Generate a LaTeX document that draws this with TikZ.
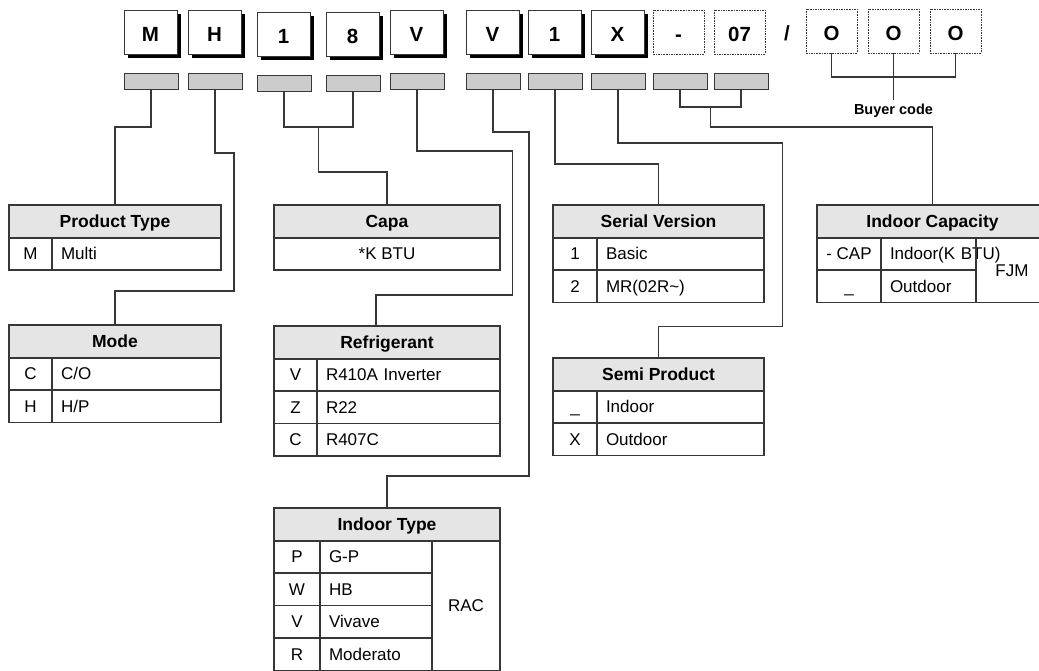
\documentclass[tikz,border=0pt]{standalone}
\usepackage{fontspec}
\setmainfont{Liberation Sans}
\usetikzlibrary{positioning,shadows}
\definecolor{ink}{RGB}{55,55,55}
\definecolor{hdfill}{RGB}{229,229,229}
\definecolor{barfill}{RGB}{204,204,204}

\begin{document}
\begin{tikzpicture}[x=1pt,y=-1pt,
     letter/.style={draw=ink,fill=white,line width=0.9pt,minimum width=53pt,minimum height=44pt,inner sep=0pt,outer sep=0pt,anchor=north west,
       font=\bfseries\fontsize{20.5}{22}\selectfont,text height=18.7pt,text depth=0pt,
       drop shadow={shadow xshift=4pt,shadow yshift=-4pt,fill=black,opacity=1}},
     opt/.style={draw=ink,dash pattern=on 1.6pt off 1pt,line width=0.9pt,minimum width=51pt,minimum height=44pt,inner sep=0pt,outer sep=0pt,anchor=north west,
       font=\bfseries\fontsize{20.5}{22}\selectfont,text height=18.7pt,text depth=0pt},
     bar/.style={draw=ink,fill=barfill,line width=0.9pt,minimum width=54pt,minimum height=16pt,inner sep=0pt,outer sep=0pt,anchor=north west},
     wire/.style={draw=ink,line width=1.1pt},
     hd/.style={draw=ink,fill=hdfill,line width=1.1pt,minimum height=33pt,inner sep=0pt,outer sep=0pt,anchor=north west,
       font=\bfseries\fontsize{17.5}{19}\selectfont,text height=12.6pt,text depth=0pt},
     key/.style={draw=ink,line width=1.1pt,minimum height=32.5pt,inner sep=0pt,outer sep=0pt,anchor=north west,
       font=\fontsize{17}{19}\selectfont,text height=12.2pt,text depth=0pt},
     val/.style={key,align=left,inner xsep=9pt,text width=#1}]
    \useasboundingbox (0,0) rectangle (1039,671);
    \clip (0,0) rectangle (1039,671);
    % model code
    \node[letter] (cM)  at (124,10) {M};
    \node[letter] (cH)  at (188,10) {H};
    \node[letter] (c1)  at (257,12) {1};
    \node[letter] (c8)  at (326,12) {8};
    \node[letter] (cV)  at (390,10) {V};
    \node[letter] (cV2) at (466,10) {V};
    \node[letter] (cS)  at (528,10) {1};
    \node[letter] (cX)  at (591,10) {X};
    \node[opt] (cDash) at (653,10) {-};
    \node[opt] (c07)   at (714,10) {07};
    \node[font=\bfseries\fontsize{20.5}{22}\selectfont] (slash) at (787,33) {/};
    \node[opt] (o1) at (806,9) {O};
    \node[opt] (o2) at (868,9) {O};
    \node[opt] (o3) at (930,9) {O};
    % grey bars
    \node[bar] (bM)    at (124,73) {};
    \node[bar] (bH)    at (188,73) {};
    \node[bar] (b1)    at (257,75) {};
    \node[bar] (b8)    at (326,75) {};
    \node[bar] (bV)    at (390,73) {};
    \node[bar] (bV2)   at (466,73) {};
    \node[bar] (bS)    at (528,73) {};
    \node[bar] (bX)    at (591,73) {};
    \node[bar] (bDash) at (653,73) {};
    \node[bar] (b07)   at (714,73) {};
    \node[font=\bfseries\fontsize{14.5}{16}\selectfont,anchor=north,inner xsep=0pt,inner ysep=4pt,text height=10.4pt,text depth=3pt] (buyer) at (893.5,100) {Buyer code};

    % Product Type
    \node[hd,minimum width=212pt] (hPT) at (9,205) {Product Type};
    \node[key,minimum width=43pt] (kPT1) at (9,237.5) {M};
    \node[val=151pt] (vPT1) at (52,237.5) {Multi};
    % Mode
    \node[hd,minimum width=212pt] (hMode) at (9,325) {Mode};
    \node[key,minimum width=43pt] (kMo1) at (9,357.5) {C};
    \node[val=151pt] (vMo1) at (52,357.5) {C/O};
    \node[key,minimum width=43pt] (kMo2) at (9,390) {H};
    \node[val=151pt] (vMo2) at (52,390) {H/P};
    % Capa
    \node[hd,minimum width=226pt] (hCapa) at (274,205) {Capa};
    \node[key,minimum width=226pt] (vCapa) at (274,237.5) {*K BTU};
    % Refrigerant
    \node[hd,minimum width=226pt] (hRef) at (274,326) {Refrigerant};
    \node[key,minimum width=43pt] (kRe1) at (274,358.5) {V};
    \node[val=165pt] (vRe1) at (317,358.5) {R410A Inverter};
    \node[key,minimum width=43pt] (kRe2) at (274,391) {Z};
    \node[val=165pt] (vRe2) at (317,391) {R22};
    \node[key,minimum width=43pt] (kRe3) at (274,423.5) {C};
    \node[val=165pt] (vRe3) at (317,423.5) {R407C};
    % Indoor Type
    \node[hd,minimum width=226pt] (hIT) at (274,508) {Indoor Type};
    \node[key,minimum width=46pt] (kIT1) at (274,540.5) {P};
    \node[val=94pt] (vIT1) at (320,540.5) {G-P};
    \node[key,minimum width=46pt] (kIT2) at (274,573) {W};
    \node[val=94pt] (vIT2) at (320,573) {HB};
    \node[key,minimum width=46pt] (kIT3) at (274,605.5) {V};
    \node[val=94pt] (vIT3) at (320,605.5) {Vivave};
    \node[key,minimum width=46pt] (kIT4) at (274,638) {R};
    \node[val=94pt] (vIT4) at (320,638) {Moderato};
    \node[key,minimum width=68pt,minimum height=130pt] (rac) at (432,540.5) {RAC};
    % Serial Version
    \node[hd,minimum width=211pt] (hSV) at (553,205) {Serial Version};
    \node[key,minimum width=44pt] (kSV1) at (553,237.5) {1};
    \node[val=149pt] (vSV1) at (597,237.5) {Basic};
    \node[key,minimum width=44pt] (kSV2) at (553,270) {2};
    \node[val=149pt] (vSV2) at (597,270) {MR(02R\textasciitilde)};
    % Semi Product
    \node[hd,minimum width=211pt] (hSP) at (553,358) {Semi Product};
    \node[key,minimum width=44pt] (kSP1) at (553,390.5) {\_};
    \node[val=149pt] (vSP1) at (597,390.5) {Indoor};
    \node[key,minimum width=44pt] (kSP2) at (553,423) {X};
    \node[val=149pt] (vSP2) at (597,423) {Outdoor};
    % Indoor Capacity
    \node[hd,minimum width=231pt] (hIC) at (817,205) {Indoor Capacity};
    \node[key,minimum width=64pt] (kIC1) at (817,237.5) {- CAP};
    \node[val=77pt] (vIC1) at (881,237.5) {\mbox{Indoor(K BTU)}};
    \node[key,minimum width=64pt] (kIC2) at (817,270) {\_};
    \node[val=77pt] (vIC2) at (881,270) {Outdoor};
    \node[key,minimum width=72pt,minimum height=65pt] (fjm) at (976,237.5) {FJM};

    % connectors
    \draw[wire] (bM.south) -- ++(0,38) -| (hPT.north);
    \draw[wire] (bH.south) |- (234,153) -- (234,291) -| (hMode.north);
    \coordinate (j18) at (318.5,127);
    \draw[wire] (b1.south) |- (j18) -| (b8.south);
    \draw[wire] (j18) -- ++(0,45) -| (hCapa.north);
    \draw[wire] (bV.south) |- (512.5,151) -- (512.5,295) -| ([xshift=-11pt]hRef.north);
    \draw[wire] (bV2.south) |- (529,132) -- (529,476) -| (hIT.north);
    \draw[wire] (bS.south) -- ++(0,75) -| (hSV.north);
    \draw[wire] (bX.south) |- (782.5,143) -- (782.5,326.5) -| (hSP.north);
    \coordinate (j07) at (710.5,107);
    \draw[wire] (bDash.south) |- (j07) -| (b07.south);
    \draw[wire] (j07) -- ++(0,20) -| (hIC.north);
    \coordinate (jO) at (893.5,77);
    \draw[wire] (o1.south) |- (jO) -| (o3.south);
    \draw[wire] (o2.south) -- (buyer.north);
  \end{tikzpicture}
\end{document}
